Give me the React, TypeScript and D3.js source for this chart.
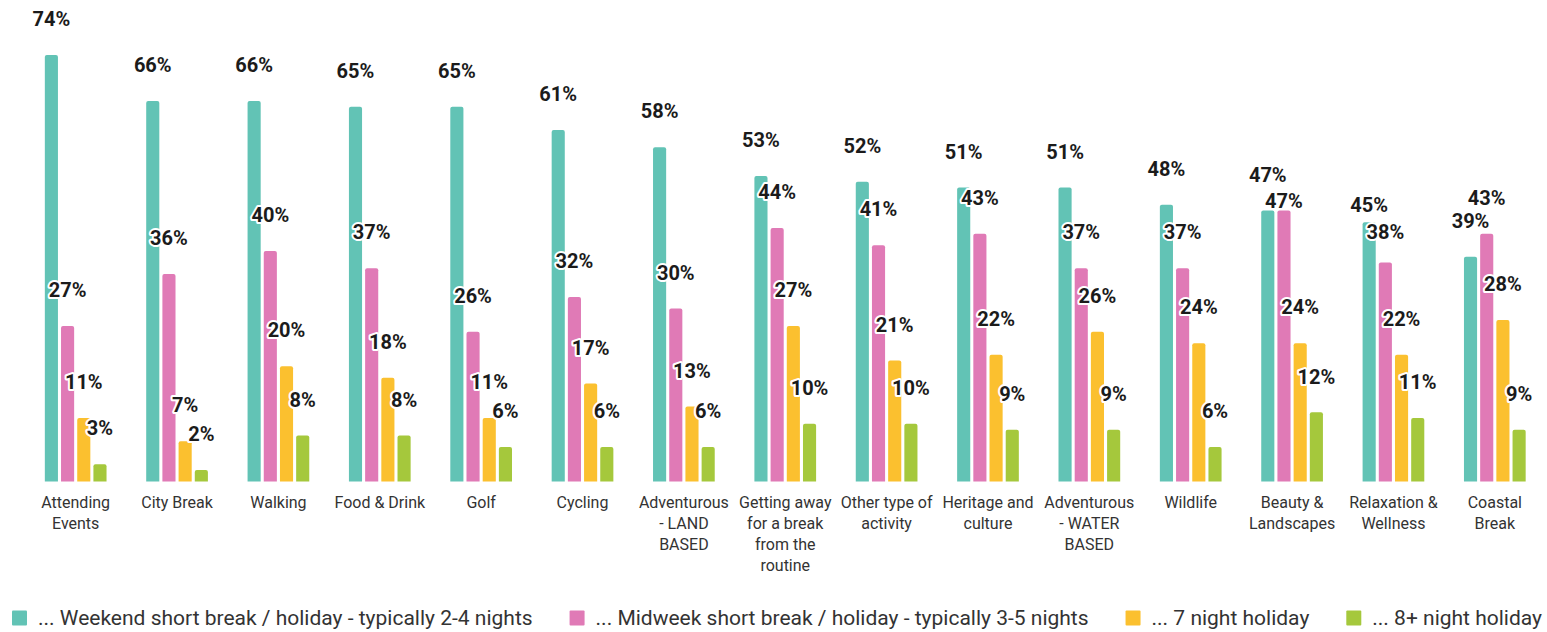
import React, { useEffect, useRef } from "react";
import * as d3 from "d3";

const categories = [
  "Attending Events",
  "City Break",
  "Walking",
  "Food & Drink",
  "Golf",
  "Cycling",
  "Adventurous - LAND BASED",
  "Getting away for a break from the routine",
  "Other type of activity",
  "Heritage and culture",
  "Adventurous - WATER BASED",
  "Wildlife",
  "Beauty & Landscapes",
  "Relaxation & Wellness",
  "Coastal Break",
];

const seriesNames = [
  "... Weekend short break / holiday - typically 2-4 nights",
  "... Midweek short break / holiday - typically 3-5 nights",
  "... 7 night holiday",
  "... 8+ night holiday",
];

const weekend = [74, 66, 66, 65, 65, 61, 58, 53, 52, 51, 51, 48, 47, 45, 39];
const midweek = [27, 36, 40, 37, 26, 32, 30, 44, 41, 43, 37, 37, 47, 38, 43];
const sevenNight = [11, 7, 20, 18, 11, 17, 13, 27, 21, 22, 26, 24, 24, 22, 28];
const eightPlus = [3, 2, 8, 8, 6, 6, 6, 10, 10, 9, 9, 6, 12, 11, 9];

const seriesColors = ["#62c3b5", "#e07ab6", "#fbc02f", "#a5c83c"];

// label nudges (px down) for specific labels
const labelNudge: Record<string, number> = { "Relaxation & Wellness|0": 19 };

const W = 1547;
const H = 632;

export default function App() {
  const ref = useRef<SVGSVGElement | null>(null);

  useEffect(() => {
    const svg = d3.select(ref.current);
    svg.selectAll("*").remove();

    const allSeries = [weekend, midweek, sevenNight, eightPlus];
    const maxV = d3.max(allSeries.flat()) as number;

    const x = d3.scaleBand<string>().domain(categories).range([25, 1545.5]).padding(0);
    const groupW = 61.7;
    const xi = d3
      .scaleBand<number>()
      .domain([0, 1, 2, 3])
      .range([x.bandwidth() / 2 - groupW / 2, x.bandwidth() / 2 + groupW / 2])
      .paddingInner(0.19)
      .paddingOuter(0);
    const y = d3.scaleLinear().domain([0, maxV]).range([481.5, 55]);

    const font = "Roboto, 'Noto Sans', sans-serif";
    const r = 2;

    // bars
    const bars = svg.append("g");
    categories.forEach((c, ci) => {
      allSeries.forEach((s, si) => {
        const x0 = (x(c) as number) + (xi(si) as number);
        const w = xi.bandwidth();
        const y0 = y(s[ci]);
        const yb = y(0);
        const p = `M${x0},${yb} L${x0},${y0 + r} Q${x0},${y0} ${x0 + r},${y0} L${x0 + w - r},${y0} Q${x0 + w},${y0} ${x0 + w},${y0 + r} L${x0 + w},${yb} Z`;
        bars.append("path").attr("d", p).attr("fill", seriesColors[si]);
      });
    });

    // value labels with simple collision avoidance
    const labels = svg.append("g");
    const placed: { x: number; y: number; w: number; h: number }[] = [];
    const lh = 22;
    categories.forEach((c, ci) => {
      allSeries.forEach((s, si) => {
        const cx = (x(c) as number) + (xi(si) as number) + xi.bandwidth() / 2;
        let cy = y(s[ci]) - 36 + (labelNudge[`${c}|${si}`] || 0);
        const txt = `${s[ci]}%`;
        const w = txt.length * 12;
        let moved = true;
        let guard = 0;
        while (moved && guard < 10) {
          moved = false;
          guard++;
          for (const b of placed) {
            if (Math.abs(b.x - cx) < (b.w + w) / 2 - 2 && Math.abs(b.y - cy) < lh) {
              cy = b.y + 26.5;
              moved = true;
            }
          }
        }
        placed.push({ x: cx, y: cy, w, h: lh });
        labels
          .append("text")
          .attr("x", cx)
          .attr("y", cy)
          .attr("dy", "0.36em")
          .attr("text-anchor", "middle")
          .attr("font-family", font)
          .attr("font-weight", 700)
          .attr("font-size", 20)
          .attr("fill", "#1b1b1b")
          .attr("stroke", "#ffffff")
          .attr("stroke-width", 4)
          .attr("stroke-linejoin", "round")
          .attr("paint-order", "stroke")
          .text(txt);
      });
    });

    // category labels (wrapped)
    const cat = svg.append("g");
    const maxW = 98;
    categories.forEach((c) => {
      const cx = (x(c) as number) + x.bandwidth() / 2;
      const t = cat
        .append("text")
        .attr("x", cx)
        .attr("y", 507.5)
        .attr("text-anchor", "middle")
        .attr("font-family", font)
        .attr("font-size", 16)
        .attr("fill", "#333333");
      const words = c.split(" ");
      let line: string[] = [];
      let ts = t.append("tspan").attr("x", cx).attr("dy", 0);
      words.forEach((wd) => {
        line.push(wd);
        ts.text(line.join(" "));
        const len = (ts.node() as SVGTSpanElement).getComputedTextLength();
        if (len > maxW && line.length > 1) {
          line.pop();
          ts.text(line.join(" "));
          line = [wd];
          ts = t.append("tspan").attr("x", cx).attr("dy", 21).text(wd);
        }
      });
    });

    // legend: spread between left and right edges
    const lg = svg.append("g");
    const ly = 618;
    const sq = 15;
    const sqGap = 11;
    const left = 12;
    const right = 1542;
    const texts = seriesNames.map((n) =>
      lg
        .append("text")
        .attr("y", ly)
        .attr("dy", "0.35em")
        .attr("font-family", font)
        .attr("font-size", 21)
        .attr("fill", "#333333")
        .text(n)
    );
    const widths = texts.map((t) => (t.node() as SVGTextElement).getComputedTextLength());
    const used = d3.sum(widths) + seriesNames.length * (sq + sqGap);
    const gap = (right - left - used) / (seriesNames.length - 1);
    let lx = left;
    seriesNames.forEach((n, i) => {
      lg.append("rect")
        .attr("x", lx)
        .attr("y", ly - sq / 2)
        .attr("width", sq)
        .attr("height", sq)
        .attr("rx", 1)
        .attr("fill", seriesColors[i]);
      texts[i].attr("x", lx + sq + sqGap);
      lx = lx + sq + sqGap + widths[i] + gap;
    });
  }, []);

  return (
    <svg
      ref={ref}
      width={W}
      height={H}
      style={{ position: "absolute", left: 0, top: 0, background: "#ffffff" }}
    />
  );
}
